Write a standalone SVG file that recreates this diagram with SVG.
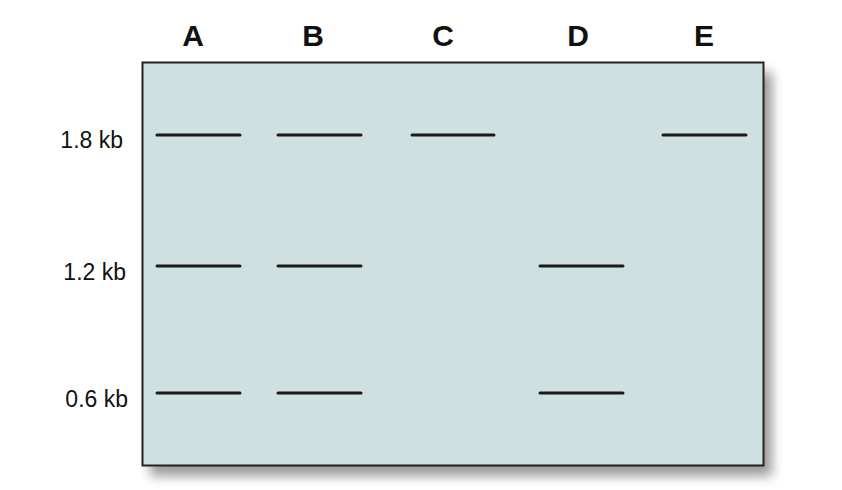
<svg xmlns="http://www.w3.org/2000/svg" width="842" height="490" viewBox="0 0 842 490">
<style>
.lane{font-family:"Liberation Sans",Arial,sans-serif;font-weight:bold;font-size:30px;fill:#111;text-anchor:middle}
.size{font-family:"Liberation Sans",Arial,sans-serif;font-size:23px;fill:#111;text-anchor:end}
.band{stroke:#1a1a1a;stroke-width:3;stroke-linecap:round}
</style>
<defs>
<filter id="sh" x="-10%" y="-10%" width="125%" height="130%">
<feGaussianBlur stdDeviation="6"/>
</filter>
</defs>
<rect width="842" height="490" fill="#fff"/>
<g id="gel">
<rect x="150" y="72" width="622" height="404" fill="#000" opacity="0.4" filter="url(#sh)"/>
<rect x="142.5" y="62.5" width="621" height="403" fill="#cee0df" stroke="#222" stroke-width="2"/>
</g>
<g id="lane-labels">
<text class="lane" x="193" y="46">A</text>
<text class="lane" x="313" y="46">B</text>
<text class="lane" x="443" y="46">C</text>
<text class="lane" x="578" y="46">D</text>
<text class="lane" x="704" y="46">E</text>
</g>
<g id="size-labels">
<text class="size" x="123" y="148">1.8 kb</text>
<text class="size" x="126" y="280">1.2 kb</text>
<text class="size" x="128" y="407">0.6 kb</text>
</g>
<g id="bands">
<line class="band" x1="157" y1="135" x2="240" y2="135"/>
<line class="band" x1="157" y1="266" x2="240" y2="266"/>
<line class="band" x1="157" y1="393" x2="240" y2="393"/>
<line class="band" x1="278" y1="135" x2="361" y2="135"/>
<line class="band" x1="278" y1="266" x2="361" y2="266"/>
<line class="band" x1="278" y1="393" x2="361" y2="393"/>
<line class="band" x1="412" y1="135" x2="494" y2="135"/>
<line class="band" x1="540" y1="266" x2="623" y2="266"/>
<line class="band" x1="540" y1="393" x2="623" y2="393"/>
<line class="band" x1="663" y1="135" x2="746" y2="135"/>
</g>
</svg>
